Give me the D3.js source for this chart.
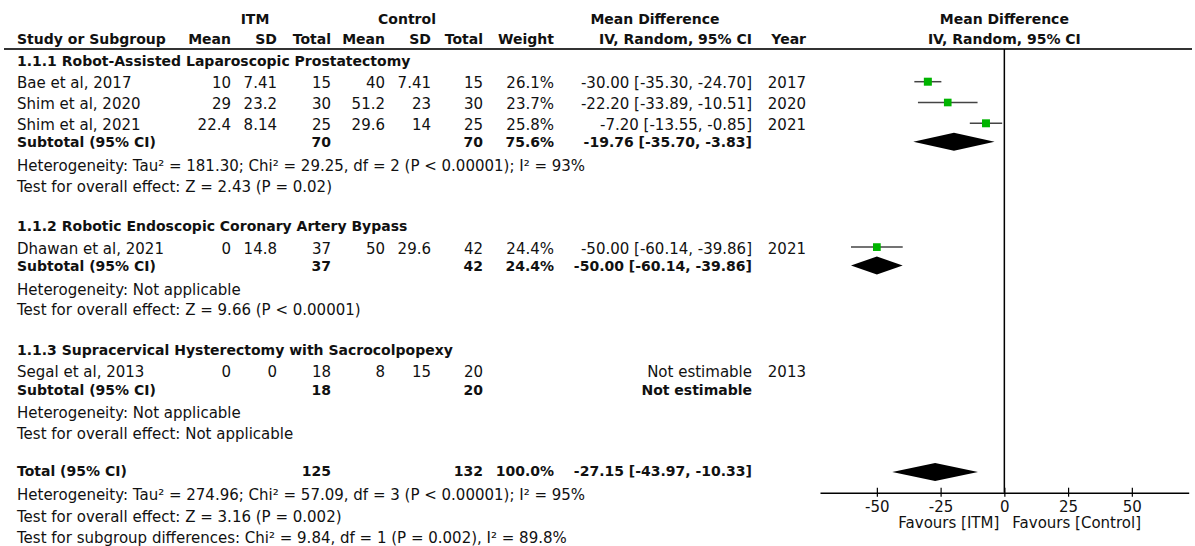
<!DOCTYPE html>
<html>
<head>
<meta charset="utf-8">
<script src="https://cdn.jsdelivr.net/npm/d3@7"></script>
<style>
  body { margin: 0; background: #fff; }
  svg text { font-family: "DejaVu Sans", sans-serif; font-size: 15px; fill: #111; }
  svg text.b { font-weight: bold; font-size: 14px; }
</style>
</head>
<body>
<div id="chart"></div>
<script>
// ---- data ----
const subgroupTitles = [
    "1.1.1 Robot-Assisted Laparoscopic Prostatectomy",
    "1.1.2 Robotic Endoscopic Coronary Artery Bypass",
    "1.1.3 Supracervical Hysterectomy with Sacrocolpopexy"
];
const studyNames = ["Bae et al, 2017", "Shim et al, 2020", "Shim et al, 2021", "Dhawan et al, 2021", "Segal et al, 2013"];
const studyGroup = [0, 0, 0, 1, 2];
const itmMean = [10, 29, 22.4, 0, 0];
const itmSD = [7.41, 23.2, 8.14, 14.8, 0];
const itmTotal = [15, 30, 25, 37, 18];
const ctlMean = [40, 51.2, 29.6, 50, 8];
const ctlSD = [7.41, 23, 14, 29.6, 15];
const ctlTotal = [15, 30, 25, 42, 20];
const weights = [26.1, 23.7, 25.8, 24.4, null];
const md = [-30.00, -22.20, -7.20, -50.00, null];
const ciLow = [-35.30, -33.89, -13.55, -60.14, null];
const ciHigh = [-24.70, -10.51, -0.85, -39.86, null];
const years = [2017, 2020, 2021, 2021, 2013];

const subItmTotal = [70, 37, 18];
const subCtlTotal = [70, 42, 20];
const subWeight = [75.6, 24.4, null];
const subMD = [-19.76, -50.00, null];
const subLow = [-35.70, -60.14, null];
const subHigh = [-3.83, -39.86, null];
const subHetero = [
    "Heterogeneity: Tau² = 181.30; Chi² = 29.25, df = 2 (P < 0.00001); I² = 93%",
    "Heterogeneity: Not applicable",
    "Heterogeneity: Not applicable"
];
const subEffect = [
    "Test for overall effect: Z = 2.43 (P = 0.02)",
    "Test for overall effect: Z = 9.66 (P < 0.00001)",
    "Test for overall effect: Not applicable"
];

const totalItm = 125, totalCtl = 132, totalWeight = 100.0;
const totalMD = -27.15, totalLow = -43.97, totalHigh = -10.33;
const totalNotes = [
    "Heterogeneity: Tau² = 274.96; Chi² = 57.09, df = 3 (P < 0.00001); I² = 95%",
    "Test for overall effect: Z = 3.16 (P = 0.002)",
    "Test for subgroup differences: Chi² = 9.84, df = 1 (P = 0.002), I² = 89.8%"
];
const axisTicks = [-50, -25, 0, 25, 50];
const favourLabels = ["Favours [ITM]", "Favours [Control]"];

// ---- layout ----
const width = 1195, height = 546;
const svg = d3.select('#chart').append('svg')
    .attr('width', width).attr('height', height);

const col = {
    study: 17, itmMean: 231, itmSD: 277, itmTotal: 331,
    ctlMean: 385, ctlSD: 431, ctlTotal: 483, weight: 554, ci: 752, year: 806
};

const x = d3.scaleLinear().domain([-72.3, 72.3]).range([820, 1188.7]);
const f2 = v => v.toFixed(2);
const num = v => String(v);
const ciText = (m, lo, hi) => `${f2(m)} [${f2(lo)}, ${f2(hi)}]`;

function txt(xPos, y, s, anchor = 'start', bold = false) {
    svg.append('text')
        .attr('x', xPos).attr('y', y).attr('dy', '0.36em')
        .attr('text-anchor', anchor)
        .attr('class', bold ? 'b' : null)
        .text(s);
}

// header
txt(255, 19, 'ITM', 'middle', true);
txt(407, 19, 'Control', 'middle', true);
txt(655, 19, 'Mean Difference', 'middle', true);
txt(x(0), 19, 'Mean Difference', 'middle', true);
txt(x(0), 39, 'IV, Random, 95% CI', 'middle', true);
txt(col.study, 39, 'Study or Subgroup', 'start', true);
[['Mean', 'itmMean'], ['SD', 'itmSD'], ['Total', 'itmTotal'], ['Mean', 'ctlMean'],
 ['SD', 'ctlSD'], ['Total', 'ctlTotal'], ['Weight', 'weight'],
 ['IV, Random, 95% CI', 'ci'], ['Year', 'year']].forEach(([s, k]) => txt(col[k], 39, s, 'end', true));

svg.append('line')
    .attr('x1', 4).attr('x2', 1192).attr('y1', 49).attr('y2', 49)
    .attr('stroke', '#333').attr('stroke-width', 2);

const plot = svg.append('g');

function squareSize(w) { return 8 * Math.sqrt(w / 26.1); }

function diamond(y, lo, m, hi) {
    const h = 9;
    plot.append('path')
        .attr('d', `M${x(lo)},${y}L${x(m)},${y - h}L${x(hi)},${y}L${x(m)},${y + h}Z`)
        .attr('fill', '#000');
}

let y = 60.7;
subgroupTitles.forEach((title, g) => {
    txt(col.study, y, title, 'start', true);
    y += 22;
    const idx = studyNames.map((_, i) => i).filter(i => studyGroup[i] === g);
    idx.forEach((i, k) => {
        if (k > 0) y += 20.8;
        txt(col.study, y, studyNames[i]);
        txt(col.itmMean, y, num(itmMean[i]), 'end');
        txt(col.itmSD, y, num(itmSD[i]), 'end');
        txt(col.itmTotal, y, num(itmTotal[i]), 'end');
        txt(col.ctlMean, y, num(ctlMean[i]), 'end');
        txt(col.ctlSD, y, num(ctlSD[i]), 'end');
        txt(col.ctlTotal, y, num(ctlTotal[i]), 'end');
        if (weights[i] != null) {
            txt(col.weight, y, weights[i].toFixed(1) + '%', 'end');
            txt(col.ci, y, ciText(md[i], ciLow[i], ciHigh[i]), 'end');
            plot.append('line')
                .attr('x1', x(ciLow[i])).attr('x2', x(ciHigh[i]))
                .attr('y1', y - 1).attr('y2', y - 1)
                .attr('stroke', '#444').attr('stroke-width', 1.5);
            const s = squareSize(weights[i]);
            plot.append('rect')
                .attr('x', x(md[i]) - s / 2).attr('y', y - 1 - s / 2)
                .attr('width', s).attr('height', s)
                .attr('fill', '#00b400');
        } else {
            txt(col.ci, y, 'Not estimable', 'end');
        }
        txt(col.year, y, num(years[i]), 'end');
    });
    y += 18;
    txt(col.study, y, 'Subtotal (95% CI)', 'start', true);
    txt(col.itmTotal, y, num(subItmTotal[g]), 'end', true);
    txt(col.ctlTotal, y, num(subCtlTotal[g]), 'end', true);
    if (subWeight[g] != null) {
        txt(col.weight, y, subWeight[g].toFixed(1) + '%', 'end', true);
        txt(col.ci, y, ciText(subMD[g], subLow[g], subHigh[g]), 'end', true);
        diamond(y - 0.5, subLow[g], subMD[g], subHigh[g]);
    } else {
        txt(col.ci, y, 'Not estimable', 'end', true);
    }
    y += 23;
    txt(col.study, y, subHetero[g]);
    y += 20.8;
    txt(col.study, y, subEffect[g]);
    y += (g < subgroupTitles.length - 1) ? 40 : 37;
});

// overall
txt(col.study, y, 'Total (95% CI)', 'start', true);
txt(col.itmTotal, y, num(totalItm), 'end', true);
txt(col.ctlTotal, y, num(totalCtl), 'end', true);
txt(col.weight, y, totalWeight.toFixed(1) + '%', 'end', true);
txt(col.ci, y, ciText(totalMD, totalLow, totalHigh), 'end', true);
diamond(y + 1.3, totalLow, totalMD, totalHigh);
y += 24;
totalNotes.forEach((s, i) => {
    if (i > 0) y += 21.5;
    txt(col.study, y, s);
});

// axis and zero line
const axisY = 492.7;
plot.append('line')
    .attr('x1', x(0)).attr('x2', x(0)).attr('y1', 49).attr('y2', axisY)
    .attr('stroke', '#000').attr('stroke-width', 1.5);

const axis = svg.append('g')
    .attr('transform', `translate(0,${axisY})`)
    .call(d3.axisBottom(x).tickValues(axisTicks).tickFormat(d => String(d))
        .tickSize(4).tickSizeOuter(0).tickPadding(5));
axis.select('.domain').attr('stroke', '#000').attr('stroke-width', 1.5);
axis.selectAll('.tick line').attr('y1', -5).attr('stroke', '#000').attr('stroke-width', 1.2);
axis.selectAll('.tick text')
    .style('font-family', '"DejaVu Sans", sans-serif').style('font-size', '15px').attr('fill', '#111');

txt(x(0) - 5, 523, favourLabels[0], 'end');
txt(x(0) + 8, 523, favourLabels[1], 'start');
</script>
</body>
</html>
